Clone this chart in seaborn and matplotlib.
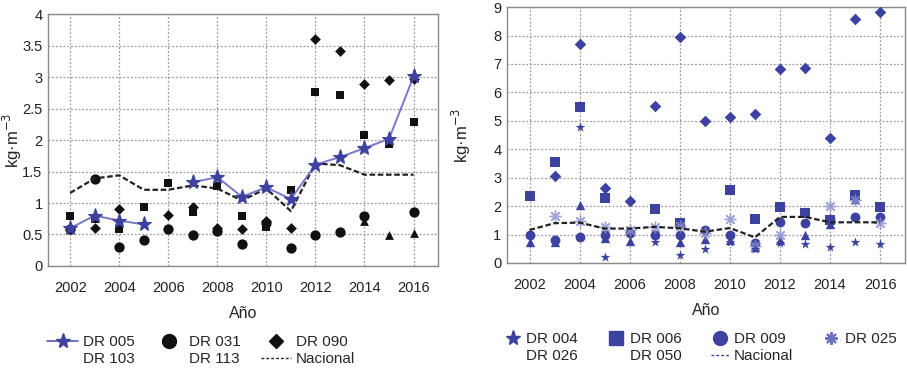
import numpy as np
import pandas as pd
import seaborn as sns
import matplotlib.pyplot as plt
from matplotlib.lines import Line2D

sns.set_style("white")
plt.rcParams['font.family'] = ['Liberation Sans', 'DejaVu Sans']

years = list(range(2002, 2017))
nan = np.nan

# national average (same in both panels)
nacional = [1.16, 1.39, 1.44, 1.21, 1.21, 1.28, 1.23, 1.04, 1.23, 0.87, 1.63, 1.60, 1.45, 1.45, 1.45]
nacional_r = [1.16, 1.40, 1.42, 1.21, 1.21, 1.27, 1.22, 1.10, 1.23, 0.90, 1.62, 1.62, 1.43, 1.43, 1.43]

# left panel
dr005 = [0.60, 0.80, 0.72, 0.66, nan, 1.33, 1.41, 1.10, 1.25, 1.06, 1.61, 1.73, 1.87, 2.02, 3.01]
dr031 = [0.58, 1.38, 0.30, 0.42, 0.59, 0.49, 0.55, 0.35, 0.68, 0.28, 0.49, 0.54, 0.79, nan, 0.85]
dr090 = [nan, 0.60, 0.90, nan, 0.81, 0.94, 0.60, 0.58, 0.71, 0.60, 3.60, 3.41, 2.89, 2.96, 2.97]
dr103 = [nan, nan, nan, nan, nan, nan, nan, nan, nan, nan, nan, nan, 0.71, 0.49, 0.53]
dr113 = [0.79, 0.74, 0.59, 0.94, 1.32, 0.86, 1.27, 0.80, 0.62, 1.20, 2.76, 2.72, 2.08, 1.93, 2.28]

# right panel
dr004 = [nan, nan, 4.78, 0.22, nan, 0.75, 0.28, 0.50, 0.75, 0.50, 0.70, 0.65, 0.57, 0.75, 0.68]
dr006 = [2.34, 3.55, 5.49, 2.30, nan, 1.90, 1.40, nan, 2.58, 1.56, 1.97, 1.76, 1.52, 2.40, 1.97]
dr009 = [0.97, 0.80, 0.93, 1.00, 1.05, 1.00, 1.00, 1.15, 1.00, 0.70, 1.45, 1.42, 1.55, 1.60, 1.62]
dr025 = [nan, 1.65, 1.48, 1.25, 1.15, 1.28, 1.30, 1.05, 1.55, 0.60, 1.00, nan, 2.00, 2.20, 1.42]
dr026 = [nan, 3.05, 7.70, 2.65, 2.17, 5.52, 7.95, 4.98, 5.13, 5.25, 6.82, 6.86, 4.40, 8.58, 8.82]
dr050 = [0.72, 0.75, 2.03, 0.88, 0.78, nan, 0.72, 0.85, 0.80, 0.55, 0.80, 0.97, 1.38, 2.25, nan]

blue = "#3d42a0"
black = "#111111"

fig = plt.figure(figsize=(9.07, 3.73), dpi=100)
axL = fig.add_axes([0.053, 0.287, 0.430, 0.675])
axR = fig.add_axes([0.559, 0.295, 0.439, 0.686])


def scatter(ax, vals, marker, color, size, alpha=1.0, lw=0):
    df = pd.DataFrame({"Año": years, "v": vals}).dropna()
    sns.scatterplot(data=df, x="Año", y="v", ax=ax, marker=marker, color=color,
                    s=size, alpha=alpha, linewidth=lw, edgecolor=color, zorder=3)


def nacional_line(ax, vals):
    df = pd.DataFrame({"Año": years, "v": vals})
    sns.lineplot(data=df, x="Año", y="v", ax=ax, color="#222222", lw=1.6,
                 linestyle=(0, (2.5, 1.2)), zorder=4)


def style(ax, ymax, yticks, yfmt, ylab_x):
    ax.set_xlim(2001.1, 2017)
    ax.set_ylim(0, ymax)
    ax.set_xticks(range(2002, 2017, 2))
    ax.set_yticks(yticks)
    ax.set_yticklabels([yfmt(t) for t in yticks])
    ax.grid(True, linestyle=(0, (1.5, 1.5)), color="#9a9a9a", lw=0.9)
    for s in ax.spines.values():
        s.set_color("#8a8a8a")
        s.set_linewidth(1.0)
    ax.tick_params(axis="both", labelsize=10.5, length=0, pad=4, colors="#222222")
    ax.tick_params(axis="x", pad=11)
    ax.set_xlabel("Año", fontsize=11.5, labelpad=8)
    ax.set_ylabel("kg·m$^{-3}$", fontsize=12)
    ax.yaxis.set_label_coords(ylab_x, 0.5)


# ---- left panel
scatter(axL, dr031, "o", black, 55)
scatter(axL, dr090, "D", black, 30)
scatter(axL, dr113, "s", black, 40)
scatter(axL, dr103, "^", black, 40)
nacional_line(axL, nacional)
seg = np.cumsum(np.isnan(dr005))
d5 = pd.DataFrame({"Año": years, "v": dr005, "seg": seg}).dropna()
sns.lineplot(data=d5, x="Año", y="v", units="seg", estimator=None, ax=axL,
             color="#7878c8", lw=1.4, marker="*", markersize=11,
             markerfacecolor=blue, markeredgecolor=blue, zorder=5)
style(axL, 4, [0, 0.5, 1, 1.5, 2, 2.5, 3, 3.5, 4],
      lambda t: f"{t:g}", -0.062)

empty = Line2D([], [], linestyle="none", marker=None)
hL = [Line2D([], [], color="#5555b0", lw=1.2, marker="*", markersize=11,
             markerfacecolor=blue, markeredgecolor=blue),
      empty,
      Line2D([], [], linestyle="none", marker="o", color=black, markersize=10),
      empty,
      Line2D([], [], linestyle="none", marker="D", color=black, markersize=7),
      Line2D([], [], color="#222222", lw=1.0, linestyle=(0, (2, 1.5)))]
lL = ["DR 005", "DR 103", "DR 031", "DR 113", "DR 090", "Nacional"]
fig.legend(hL, lL, ncol=3, loc="center", bbox_to_anchor=(0.222, 0.06),
           frameon=False, fontsize=11, handlelength=2.0, handletextpad=0.3,
           columnspacing=1.3, labelspacing=0.2, borderaxespad=0)

# ---- right panel
scatter(axR, dr026, "D", blue, 35)
scatter(axR, dr006, "s", blue, 45)
scatter(axR, dr050, "^", blue, 45)
scatter(axR, dr009, "o", blue, 50)
scatter(axR, dr025, (8, 2, 0), "#8a8fd0", 60, alpha=0.8, lw=1.0)
scatter(axR, dr004, "*", blue, 55)
nacional_line(axR, nacional_r)
style(axR, 9, list(range(0, 10)), lambda t: f"{t}", -0.085)

hR = [Line2D([], [], linestyle="none", marker="*", color=blue, markersize=11),
      empty,
      Line2D([], [], linestyle="none", marker="s", color=blue, markersize=10),
      empty,
      Line2D([], [], linestyle="none", marker="o", color=blue, markersize=10),
      Line2D([], [], color=blue, lw=1.0, linestyle=(0, (2, 1.5))),
      Line2D([], [], linestyle="none", marker=(8, 2, 0), color="#6a70c0",
             markersize=9, markeredgewidth=1.5)]
lR = ["DR 004", "DR 026", "DR 006", "DR 050", "DR 009", "Nacional", "DR 025"]
fig.legend(hR, lR, ncol=4, loc="center", bbox_to_anchor=(0.772, 0.068),
           frameon=False, fontsize=11, handlelength=1.2, handletextpad=0.3,
           columnspacing=1.9, labelspacing=0.2, borderaxespad=0)

fig.savefig("out.png", dpi=100)
